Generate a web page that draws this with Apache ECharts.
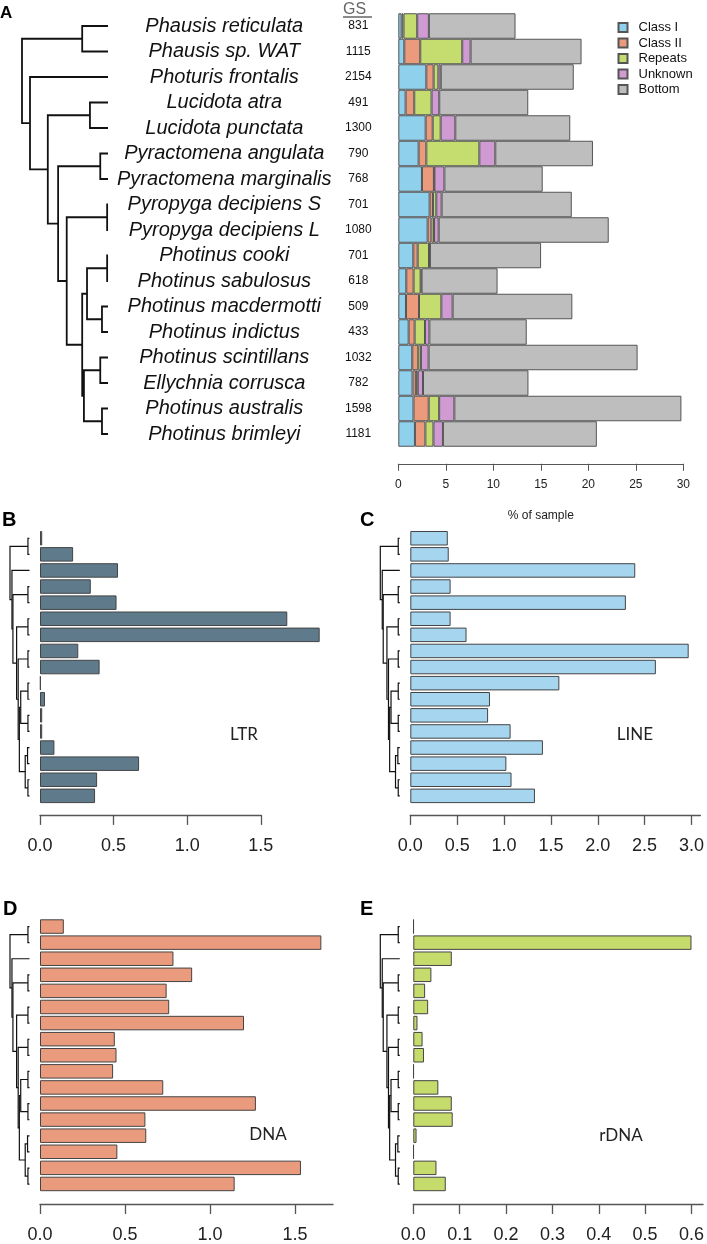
<!DOCTYPE html>
<html>
<head>
<meta charset="utf-8">
<script src="https://cdn.jsdelivr.net/npm/echarts@6.0.0/dist/echarts.min.js"></script>
<style>
  html, body { margin: 0; padding: 0; background: #fff; }
  #chart { width: 707px; height: 1244px; }
</style>
</head>
<body>
<div id="chart"></div>
<script>
// species in tree order (top to bottom)
const species = [
  'Phausis reticulata', 'Phausis sp. WAT', 'Photuris frontalis', 'Lucidota atra',
  'Lucidota punctata', 'Pyractomena angulata', 'Pyractomena marginalis',
  'Pyropyga decipiens S', 'Pyropyga decipiens L', 'Photinus cooki',
  'Photinus sabulosus', 'Photinus macdermotti', 'Photinus indictus',
  'Photinus scintillans', 'Ellychnia corrusca', 'Photinus australis', 'Photinus brimleyi'
];
const genomeSize = [831, 1115, 2154, 491, 1300, 790, 768, 701, 1080, 701, 618, 509, 433, 1032, 782, 1598, 1181];

// panel A, % of sample
const classI   = [0.35, 0.63, 2.95, 0.77, 2.88, 2.14, 2.49, 3.30, 3.09, 1.58, 0.84, 0.81, 1.09, 1.47, 1.50, 1.60, 1.75];
const classII  = [0.20, 1.68, 0.77, 0.91, 0.74, 0.81, 1.26, 0.35, 0.39, 0.46, 0.77, 1.37, 0.63, 0.63, 0.35, 1.60, 1.10];
const repeats  = [1.44, 4.42, 0.50, 1.82, 0.84, 5.58, 0.05, 0.35, 0.28, 1.19, 0.74, 2.35, 1.09, 0.28, 0.20, 1.10, 0.85];
const unknown  = [1.23, 0.88, 0.25, 0.81, 1.54, 1.68, 1.05, 0.56, 0.49, 0.10, 0.10, 1.19, 0.46, 0.81, 0.55, 1.60, 1.00];
const bottom   = [9.12, 11.68, 14.0, 9.37, 12.1, 10.28, 10.35, 13.7, 17.9, 11.7, 8.0, 12.6, 10.25, 22.0, 11.1, 23.9, 16.2];

// panels B-E
const ltr  = [0.015, 0.225, 0.53, 0.345, 0.52, 1.68, 1.90, 0.26, 0.405, 0.005, 0.034, 0.015, 0.015, 0.098, 0.673, 0.388, 0.374];
const line = [0.40, 0.41, 2.40, 0.43, 2.30, 0.43, 0.60, 2.97, 2.62, 1.59, 0.85, 0.83, 1.07, 1.415, 1.025, 1.08, 1.33];
const dna  = [0.14, 1.655, 0.785, 0.895, 0.745, 0.76, 1.20, 0.44, 0.45, 0.43, 0.725, 1.27, 0.62, 0.625, 0.455, 1.535, 1.145];
const rdna = [0.001, 0.60, 0.083, 0.039, 0.0255, 0.032, 0.009, 0.020, 0.023, 0.001, 0.054, 0.083, 0.085, 0.007, 0.001, 0.050, 0.070];

// tree topology: leaves are row numbers
const treeKids = {
  root: ['phausis', 'n1'], phausis: [0, 1], n1: [2, 'n2'], n2: ['lucidota', 'n3'],
  lucidota: [3, 4], n3: ['pyractomena', 'n4'], pyractomena: [5, 6], n4: ['pyropyga', 'n5'],
  pyropyga: [7, 8], n5: ['photA', 'photB'], photA: ['cooki', 'macder'], cooki: [9, 10],
  macder: [11, 12], photB: ['scint', 'austr'], scint: [13, 14], austr: [15, 16]
};
// node depth from root (tips = 1)
const depthA = {
  root: 0, phausis: 0.70, n1: 0.093, n2: 0.30, lucidota: 0.79, n3: 0.42, pyractomena: 0.91,
  n4: 0.52, pyropyga: 0.99, n5: 0.70, photA: 0.756, cooki: 0.99, macder: 0.93,
  photB: 0.72, scint: 0.91, austr: 0.93
};
const depthSmall = {
  root: 0, phausis: 0.92, n1: 0.10, n2: 0.15, lucidota: 0.92, n3: 0.34, pyractomena: 0.92,
  n4: 0.42, pyropyga: 0.92, n5: 0.48, photA: 0.55, cooki: 0.92, macder: 0.92,
  photB: 0.78, scint: 0.90, austr: 0.92
};

const legendNames = ['Class I', 'Class II', 'Repeats', 'Unknown', 'Bottom'];
const legendColors = ['#8fd0ec', '#ec9a7c', '#c5dc6e', '#cf9bd2', '#bebebe'];

function treeSegments(depth) {
  const rowOf = (n) => typeof n === 'number' ? n : (rowOf(treeKids[n][0]) + rowOf(treeKids[n][1])) / 2;
  const xOf = (n) => typeof n === 'number' ? 1 : depth[n];
  return Object.keys(treeKids).map((n) => {
    const [a, b] = treeKids[n];
    return { coords: [[xOf(a), rowOf(a)], [xOf(n), rowOf(a)], [xOf(n), rowOf(b)], [xOf(b), rowOf(b)]] };
  });
}

const FONT = 'Liberation Sans';
const rowsA = { top: 13.25, height: 433.5 };
const rowsBC = { top: 530.2, height: 273.7 };
const rowsDE = { top: 918.5, height: 273.7 };

const grid = [
  { left: 22, width: 86, ...rowsA },
  { left: 398.3, width: 285, ...rowsA },
  { left: 10, width: 19.5, ...rowsBC },
  { left: 40, width: 220.8, ...rowsBC },
  { left: 380.3, width: 19.5, ...rowsBC },
  { left: 410.3, width: 291, ...rowsBC },
  { left: 10, width: 19.5, ...rowsDE },
  { left: 40, width: 293, ...rowsDE },
  { left: 380.3, width: 19.5, ...rowsDE },
  { left: 413.3, width: 293.7, ...rowsDE }
];

const xAxis = [];
const yAxis = [];
const series = [];

function treeAxes(g, width) {
  xAxis.push({ gridIndex: g, type: 'value', min: 0, max: 1, show: false });
  yAxis.push({ gridIndex: g, type: 'value', min: -0.5, max: 16.5, inverse: true, show: false });
  series.push({
    type: 'lines', coordinateSystem: 'cartesian2d', polyline: true, silent: true,
    xAxisIndex: xAxis.length - 1, yAxisIndex: yAxis.length - 1,
    lineStyle: { color: '#111', width: width, opacity: 1 },
    data: treeSegments(g === 0 ? depthA : depthSmall)
  });
}

function smallPanel(g, values, color, max, ticks, offset) {
  treeAxes(g, 1.2);
  xAxis.push({
    gridIndex: g + 1, type: 'value', min: 0, max: max, offset: offset,
    splitLine: { show: false },
    axisLine: { show: true, lineStyle: { color: '#555', width: 1.3 } },
    axisTick: { show: true, length: 10, customValues: ticks, lineStyle: { color: '#555', width: 1.3 } },
    axisLabel: {
      customValues: ticks, fontSize: 18, fontFamily: FONT, color: '#222', margin: 22,
      formatter: (v) => v.toFixed(1)
    }
  });
  yAxis.push({ gridIndex: g + 1, type: 'category', data: species, inverse: true, show: false });
  series.push({
    type: 'bar', xAxisIndex: xAxis.length - 1, yAxisIndex: yAxis.length - 1,
    data: values, barCategoryGap: '10%', clip: false, silent: true,
    itemStyle: { color: color, borderColor: '#444', borderWidth: 1 }
  });
}

// panel A
treeAxes(0, 1.8);
xAxis.push({
  gridIndex: 1, type: 'value', min: 0, max: 30, interval: 5, offset: 17,
  splitLine: { show: false },
  axisLine: { show: true, lineStyle: { color: '#555' } },
  axisTick: { show: true, length: 7, lineStyle: { color: '#555' } },
  axisLabel: { fontSize: 12, fontFamily: FONT, color: '#222', margin: 15 },
  name: '% of sample', nameLocation: 'middle', nameGap: 46,
  nameTextStyle: { fontSize: 12, fontFamily: FONT, color: '#222' }
});
yAxis.push({
  gridIndex: 1, type: 'category', data: species, inverse: true,
  axisLine: { show: false }, axisTick: { show: false },
  axisLabel: {
    margin: 20,
    formatter: (v, i) => '{n|' + v + '}{g|' + genomeSize[i] + '}',
    rich: {
      n: { width: 228, align: 'center', fontSize: 20, fontStyle: 'italic', fontFamily: FONT, color: '#111' },
      g: { width: 40, align: 'center', fontSize: 12, fontFamily: FONT, color: '#111' }
    }
  }
});
[classI, classII, repeats, unknown, bottom].forEach((vals, k) => {
  series.push({
    name: legendNames[k], type: 'bar', stack: 'a', xAxisIndex: 1, yAxisIndex: 1,
    data: vals, barWidth: '100%', silent: true,
    itemStyle: { color: legendColors[k], borderColor: '#555', borderWidth: 1 }
  });
});

smallPanel(2, ltr, '#5f7b8b', 1.5, [0, 0.5, 1, 1.5], 11);
smallPanel(4, line, '#a6d5f0', 3.095, [0, 0.5, 1, 1.5, 2, 2.5, 3], 11);
smallPanel(6, dna, '#eb9b7d', 1.7235, [0, 0.5, 1, 1.5], 12);
smallPanel(8, rdna, '#c5db6c', 0.625, [0, 0.1, 0.2, 0.3, 0.4, 0.5, 0.6], 12);

const letter = (t, x, y, size) => ({
  type: 'text', x: x, y: y,
  style: { text: t, fontSize: size, fontWeight: 'bold', fontFamily: FONT, fill: '#000' }
});
const tag = (t, x, y) => ({
  type: 'text', x: x, y: y,
  style: { text: t, align: 'center', verticalAlign: 'middle', fontSize: 17, fontFamily: 'Lato', fill: '#222' }
});

const option = {
  animation: false,
  backgroundColor: '#fff',
  grid: grid,
  xAxis: xAxis,
  yAxis: yAxis,
  legend: {
    orient: 'vertical', left: 617.5, top: 21, padding: 0, icon: 'rect',
    itemWidth: 9, itemHeight: 9, itemGap: 2.5, data: legendNames,
    textStyle: { fontSize: 13, fontFamily: FONT, color: '#111', padding: [0, 0, 0, 6], lineHeight: 13 }
  },
  graphic: [
    letter('A', 0, 5, 17),
    { type: 'text', x: 343, y: 2, style: { text: 'GS', fontSize: 16, fontFamily: FONT, fill: '#666' } },
    { type: 'line', shape: { x1: 343, y1: 17, x2: 372, y2: 17 }, style: { stroke: '#666', lineWidth: 1.5 } },
    letter('B', 2, 510, 20),
    letter('C', 360, 510, 20),
    letter('D', 3, 899, 20),
    letter('E', 360, 899, 20),
    tag('LTR', 244, 735),
    tag('LINE', 635, 735),
    tag('DNA', 268, 1135),
    tag('rDNA', 621, 1136)
  ],
  series: series
};

const chart = echarts.init(document.getElementById('chart'));
chart.setOption(option);
</script>
</body>
</html>
